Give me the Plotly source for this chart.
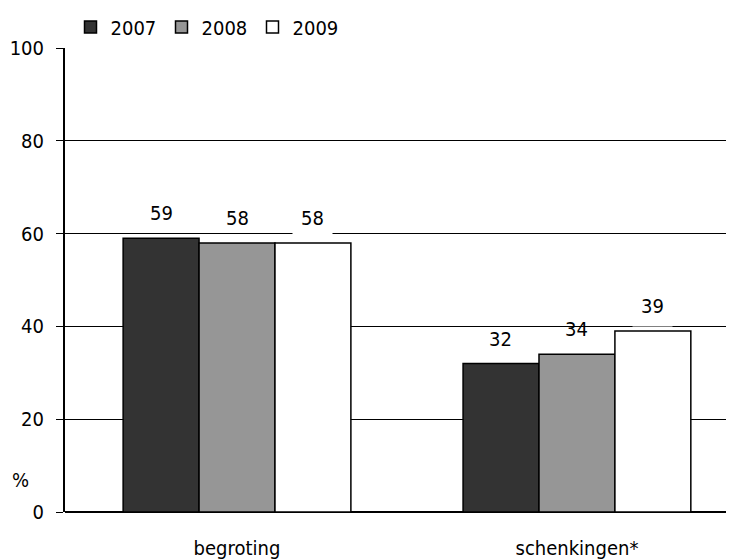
import plotly.graph_objects as go

categories = ["begroting", "schenkingen*"]
years = ["2007", "2008", "2009"]
values_2007 = [59, 32]
values_2008 = [58, 34]
values_2009 = [58, 39]
y_ticks = [0, 20, 40, 60, 80, 100]

series = [values_2007, values_2008, values_2009]
colors = ["#333333", "#969696", "#ffffff"]
FONT = "DejaVu Sans Condensed, Liberation Sans Narrow, sans-serif"
FS = 20

fig = go.Figure()
for name, vals, col in zip(years, series, colors):
    fig.add_trace(go.Bar(
        x=categories, y=vals, name=name,
        marker=dict(color=col, line=dict(color="black", width=1.5)),
    ))

# value labels
offsets = [-0.2235, 0.0, 0.2235]
for si, (vals, off) in enumerate(zip(series, offsets)):
    for ci, v in enumerate(vals):
        white = si == 2
        fig.add_annotation(
            x=ci + off, y=v, xref="x", yref="y", text=str(v),
            showarrow=False, yshift=25, yanchor="middle",
            font=dict(family=FONT, size=FS, color="black"),
            bgcolor="white" if white else None, borderpad=8 if white else 0,
        )

# plot area in figure pixels: left 57, right 726, top 40, bottom 504
fig.add_annotation(x=(12 - 57) / 669, y=(504 - 472) / 464, xref="paper", yref="paper",
                   text="%", showarrow=False, xanchor="center", yanchor="middle",
                   font=dict(family=FONT, size=FS, color="black"))

fig.update_layout(
    width=734, height=560,
    margin=dict(l=57, r=8, t=40, b=56, autoexpand=False),
    paper_bgcolor="white", plot_bgcolor="white",
    barmode="group", bargap=0.33, bargroupgap=0,
    font=dict(family=FONT, size=FS, color="black"),
    showlegend=True,
    legend=dict(orientation="h", xref="container", yref="container",
                x=62.5 / 734, xanchor="left", y=(560 - 19) / 560, yanchor="middle",
                entrywidth=46, entrywidthmode="pixels",
                font=dict(family=FONT, size=FS, color="black"),
                bgcolor="rgba(0,0,0,0)"),
    xaxis=dict(range=[-0.506, 1.462], showgrid=False, showline=False, ticks="",
               tickfont=dict(family=FONT, size=FS), ticklabelstandoff=22, automargin=False),
    yaxis=dict(range=[0, 100], tickvals=y_ticks, showgrid=True, gridcolor="black", gridwidth=1,
               showline=True, linecolor="black", linewidth=2, ticks="outside", ticklen=7,
               tickcolor="black", tickfont=dict(family=FONT, size=FS), ticklabelstandoff=8,
               zeroline=True, zerolinecolor="black", zerolinewidth=2, automargin=False),
)

fig.write_html("out.html")
